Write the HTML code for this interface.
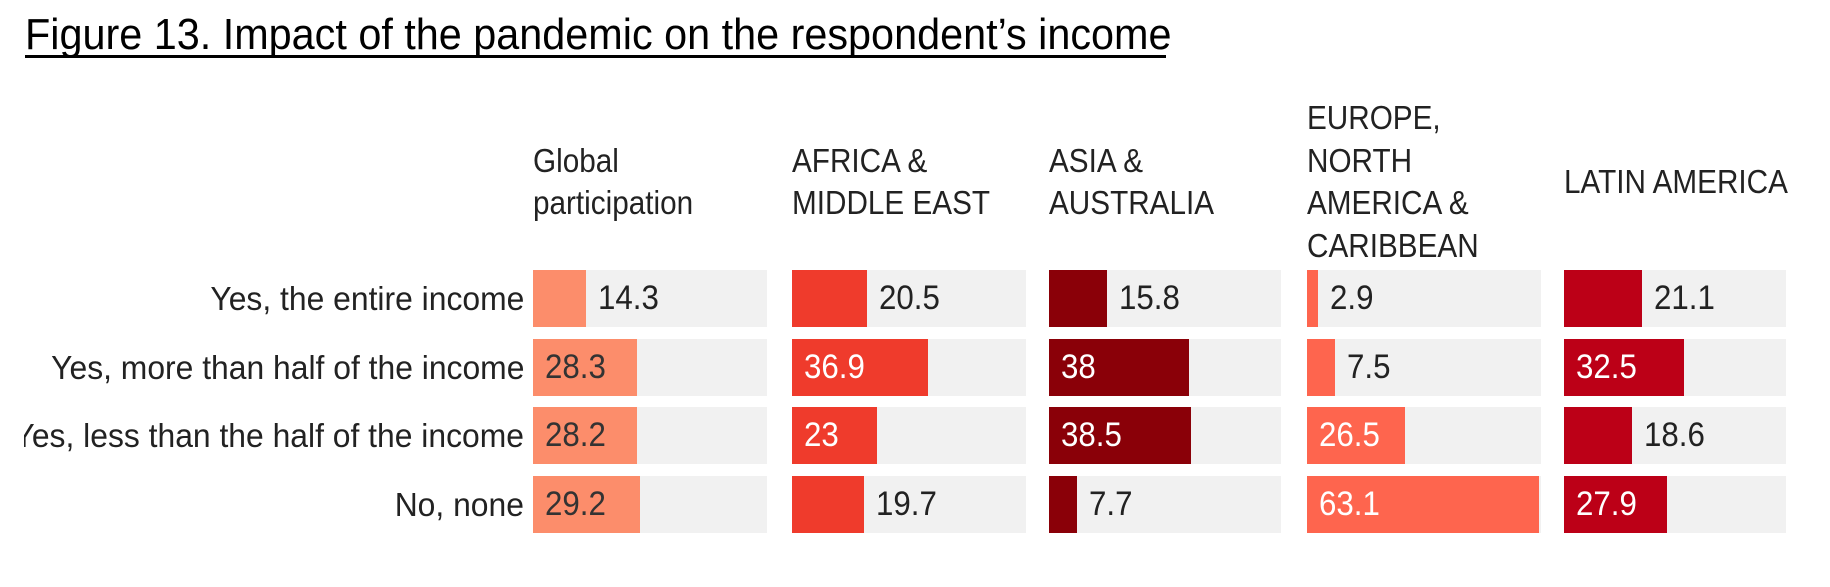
<!DOCTYPE html>
<html><head><meta charset="utf-8"><style>
body{margin:0;width:1830px;height:587px;background:#fff;position:relative;overflow:hidden;font-family:"Liberation Sans",sans-serif;}
.title{position:absolute;left:25px;top:10px;font-size:44px;color:#000;white-space:nowrap;line-height:50px;}
.title span{display:inline-block;transform:scaleX(0.94);transform-origin:left;}
.uline{position:absolute;left:25px;top:55px;width:1141px;height:3px;background:#000;}
.hdr{position:absolute;top:86px;height:192px;display:flex;align-items:center;}
.hdr div{font-size:33px;line-height:42.5px;color:#222;white-space:nowrap;transform:scaleX(0.9);transform-origin:left;}
.lab{position:absolute;left:24px;width:500px;overflow:hidden;height:57px;}
.lab div{position:absolute;right:0;top:0;line-height:57px;font-size:33px;color:#222;white-space:nowrap;transform:scaleX(0.965);transform-origin:right;}
.bg{position:absolute;height:57px;background:#f1f1f1;}
.bar{position:absolute;left:0;top:0;height:57px;}
.v{position:absolute;top:0;line-height:57px;font-size:34px;white-space:nowrap;transform:scaleX(0.92);transform-origin:left;}
</style></head><body>
<div class="title"><span>Figure 13. Impact of the pandemic on the respondent’s income</span></div>
<div class="uline"></div>
<div class="hdr" style="left:533px"><div>Global<br>participation</div></div>
<div class="hdr" style="left:792px"><div>AFRICA &amp;<br>MIDDLE EAST</div></div>
<div class="hdr" style="left:1049px"><div>ASIA &amp;<br>AUSTRALIA</div></div>
<div class="hdr" style="left:1307px"><div>EUROPE,<br>NORTH<br>AMERICA &amp;<br>CARIBBEAN</div></div>
<div class="hdr" style="left:1564px"><div>LATIN AMERICA</div></div>
<div id="c"></div>
<script>
var rows=["Yes, the entire income","Yes, more than half of the income","Yes, less than the half of the income","No, none"];
var tops=[270,339,407,476];
var panels=[[533,234,"#fc8d6b",[14.3,28.3,28.2,29.2]],[792,234,"#ef3b2c",[20.5,36.9,23,19.7]],[1049,232,"#8a0008",[15.8,38,38.5,7.7]],[1307,234,"#fe654e",[2.9,7.5,26.5,63.1]],[1564,222,"#bc0017",[21.1,32.5,18.6,27.9]]];
var h="";
for(var r=0;r<4;r++){h+='<div class="lab" style="top:'+tops[r]+'px"><div>'+rows[r]+'</div></div>';}
panels.forEach(function(p){for(var r=0;r<4;r++){var v=p[3][r],w=Math.min(p[1],v*3.68);var inside=w>80;
var tc=inside?(p[2]=="#fc8d6b"?"#333":"#fff"):"#222";
h+='<div class="bg" style="left:'+p[0]+'px;top:'+tops[r]+'px;width:'+p[1]+'px"><div class="bar" style="width:'+w+'px;background:'+p[2]+'"></div><div class="v" style="left:'+(inside?12:w+12)+'px;color:'+tc+'">'+v+'</div></div>';}});
document.getElementById("c").innerHTML=h;
</script>
</body></html>
